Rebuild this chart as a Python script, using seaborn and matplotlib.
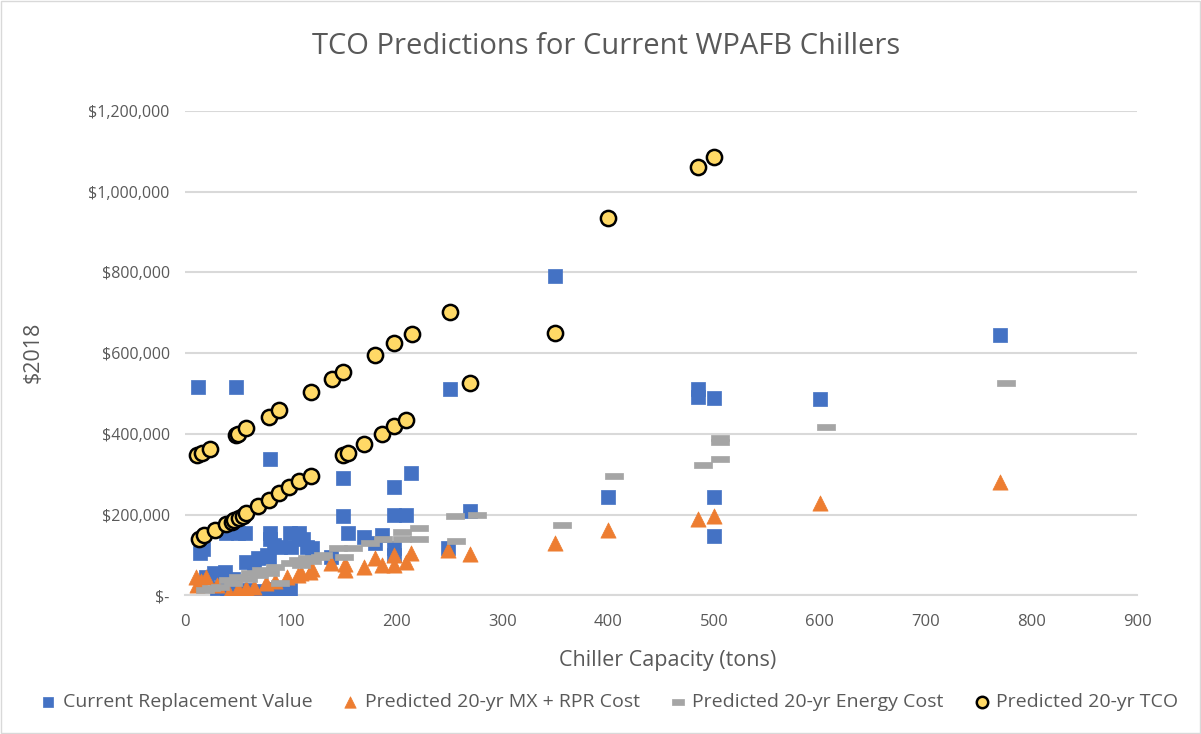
import matplotlib
matplotlib.use('Agg')
import matplotlib.pyplot as plt
import matplotlib.ticker as mtick
from matplotlib.patches import Rectangle
from matplotlib.path import Path
import seaborn as sns

# Current replacement value (blue squares)
crv_tons = [12, 48, 80, 250, 350, 485, 485, 500, 400, 500, 500, 600, 770,
            149, 149, 198, 214, 198, 209, 154, 169, 180, 186, 198, 198, 138, 269, 249,
            14, 17, 39, 50, 57, 80, 80, 84, 90, 99, 108, 112, 115, 120, 78, 58, 69, 79,
            27, 38, 20, 45, 30, 40, 50, 60, 70, 80, 90, 99, 65, 100]
crv_value = [517000, 517000, 339000, 510000, 792000, 512000, 492000, 488000, 244000, 244000, 147000, 487000, 645000,
             291000, 196000, 269000, 303000, 199000, 199000, 154000, 144000, 130000, 149000, 117000, 100000, 96000, 209000, 117000,
             106000, 115000, 154000, 154000, 154000, 154000, 140000, 125000, 120000, 154000, 154000, 140000, 120000, 117000, 100000, 83000, 92000, 96000,
             55000, 59000, 45000, 40000, 18000, 12000, 10000, 14000, 10000, 15000, 12000, 14000, 70000, 120000]

# Predicted 20-yr MX + RPR cost (orange triangles)
mx_tons = [770, 600, 500, 485, 400, 350, 269, 249, 214, 209, 198, 198, 186, 180, 169, 151, 151, 138,
           118, 107, 96, 77, 58, 42, 20, 10, 11, 15, 30, 50, 65, 85, 110, 120]
mx_cost = [281000, 230000, 196000, 189000, 163000, 129000, 102000, 112000, 104000, 83000, 100000, 75000, 75000, 92000, 71000, 63000, 78000, 80000,
           59000, 50000, 46000, 30000, 18000, 7000, 46000, 46000, 26000, 35000, 25000, 15000, 22000, 35000, 55000, 65000]

# Predicted 20-yr energy cost (gray dashes)
energy_tons = [776, 606, 506, 506, 506, 490, 405, 356, 276, 255, 256, 221, 205, 221, 205, 187, 175, 159, 145, 150,
               128, 115, 107, 99, 85, 72, 61, 50, 41, 33, 25, 19, 90, 45, 60, 70, 80, 110, 120, 130]
energy_cost = [526000, 418000, 390000, 380000, 339000, 324000, 297000, 174000, 200000, 197000, 135000, 166000, 158000, 141000, 141000, 139000, 129000, 117000, 117000, 96000,
               96000, 92000, 88000, 80000, 71000, 63000, 55000, 46000, 38000, 22000, 18000, 14000, 30000, 30000, 40000, 50000, 55000, 75000, 85000, 100000]

# Predicted 20-yr TCO (yellow circles)
tco_tons = [11, 16, 24, 48, 50, 58, 79, 89, 119, 139, 149, 180, 198, 215, 250, 269, 350, 400, 485, 500,
            13, 18, 28, 39, 44, 46, 51, 55, 58, 69, 79, 89, 98, 108, 119, 149, 154, 169, 186, 198, 209]
tco_value = [347000, 352000, 363000, 398000, 401000, 414000, 443000, 460000, 505000, 535000, 553000, 596000, 625000, 648000, 703000, 527000, 651000, 935000, 1062000, 1086000,
             141000, 149000, 163000, 177000, 183000, 186000, 193000, 198000, 204000, 221000, 237000, 254000, 269000, 283000, 297000, 347000, 353000, 374000, 399000, 419000, 435000]

sns.set_style('white')
plt.rcParams['font.family'] = ['Open Sans', 'DejaVu Sans']
txt = '#595959'
grid = '#d9d9d9'

fig = plt.figure(figsize=(12.01, 7.34), dpi=100)
ax = fig.add_axes([0.154, 0.1887, 0.793, 0.6604])

dash = Path([(-1, -0.4), (1, -0.4), (1, 0.4), (-1, 0.4), (-1, -0.4)],
            [Path.MOVETO, Path.LINETO, Path.LINETO, Path.LINETO, Path.CLOSEPOLY])

sns.scatterplot(x=crv_tons, y=crv_value, ax=ax, marker='s', s=90, color='#4472C4',
                edgecolor='#4472C4', linewidth=0.5, label='Current Replacement Value', zorder=3)
sns.scatterplot(x=mx_tons, y=mx_cost, ax=ax, marker='^', s=120, color='#ED7D31',
                edgecolor='#ED7D31', linewidth=0.5, label='Predicted 20-yr MX + RPR Cost', zorder=3)
sns.scatterplot(x=energy_tons, y=energy_cost, ax=ax, marker=dash, s=150, color='#A5A5A5',
                edgecolor='#A5A5A5', linewidth=0.5, label='Predicted 20-yr Energy Cost', zorder=3)
sns.scatterplot(x=tco_tons, y=tco_value, ax=ax, marker='o', s=120, color='#FFD966',
                edgecolor='black', linewidth=1.8, label='Predicted 20-yr TCO', zorder=4)

ax.set_xlim(0, 900)
ax.set_ylim(0, 1200000)
ax.set_xticks(range(0, 901, 100))
ax.set_yticks(range(0, 1200001, 200000))
ax.yaxis.set_major_formatter(mtick.FuncFormatter(lambda v, p: '$-' if v == 0 else f'${v:,.0f}'))
ax.grid(axis='y', color=grid, linewidth=1.5)
ax.set_axisbelow(True)
for side in ['left', 'right', 'top']:
    ax.spines[side].set_visible(False)
ax.spines['bottom'].set_color(grid)
ax.spines['bottom'].set_linewidth(1.5)
ax.tick_params(axis='x', colors=grid, length=5, width=1.2, direction='out', labelcolor=txt, labelsize=12, pad=8)
ax.tick_params(axis='y', length=0, labelcolor=txt, labelsize=11.5, pad=11)
ax.set_xlabel('')
ax.set_ylabel('')

fig.text(0.556, 0.0995, 'Chiller Capacity (tons)', ha='center', va='center', color=txt, fontsize=15.5)
fig.text(0.0275, 0.52, '$2018', ha='center', va='center', rotation=90, color=txt, fontsize=15.5)
fig.text(0.505, 0.936, 'TCO Predictions for Current WPAFB Chillers', ha='center', va='center',
         color=txt, fontsize=21)

handles, labels = ax.get_legend_handles_labels()
ax.legend_.remove()
fig.legend(handles, labels, loc='center', bbox_to_anchor=(0.507, 0.0436), ncol=4, frameon=False,
           fontsize=14, labelcolor=txt, handletextpad=0.3, columnspacing=1.5, handlelength=0.9,
           markerscale=0.75)

fig.patches.append(Rectangle((0.001, 0.001), 0.998, 0.998, transform=fig.transFigure,
                             fill=False, edgecolor=grid, linewidth=1))

fig.savefig('out.png', dpi=100)
